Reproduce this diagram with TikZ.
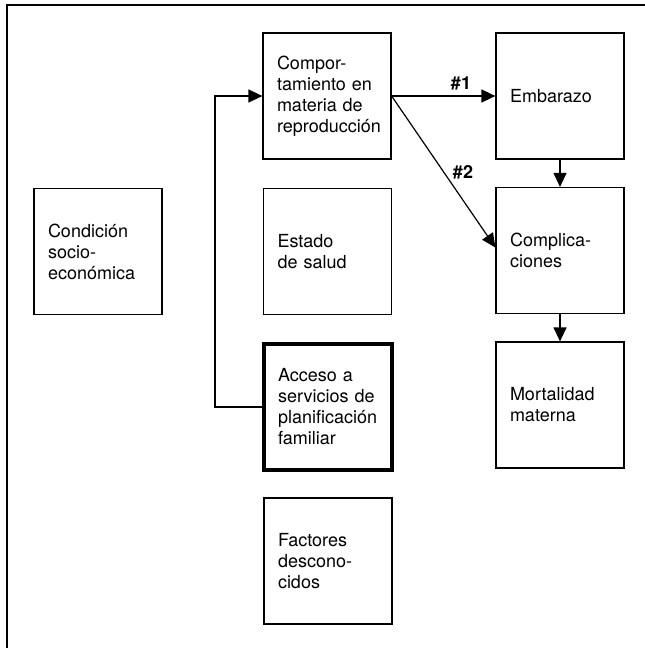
\documentclass[tikz,border=0pt]{standalone}
\usepackage{fontspec}
\setmainfont{TeX Gyre Heros}
\usetikzlibrary{arrows.meta}
\begin{document}
\begin{tikzpicture}[x=1pt,y=-1pt,
  box/.style={draw, line width=1.2pt, rectangle, minimum width=128pt, minimum height=126pt,
    text width=100pt, inner xsep=14pt, inner ysep=0pt, align=left,
    font=\fontsize{18}{21}\selectfont},
  thickbox/.style={box, line width=3.5pt},
  conn/.style={line width=1.2pt},
  arr/.style={conn, -{Triangle[length=14pt,width=13pt]}},
  lbl/.style={font=\fontsize{18}{21}\selectfont\bfseries, inner sep=0pt}]
\useasboundingbox (0,0) rectangle (645,648);
% outer frame (top and left edges)
\coordinate (fbl) at (7,648);
\coordinate (ftl) at (7,5);
\coordinate (ftr) at (645,5);
\draw[line width=1.2pt] (fbl) -- (ftl) -- (ftr);
% boxes
\node[box] (cond) at (98,251.5) {Condición\\socio-\\económica};
\node[box] (comp) at (327,96) {Compor-\\tamiento en\\materia de\\reproducción};
\node[box] (estado) at (327.5,251.5) {Estado\\de salud};
\node[thickbox] (acceso) at (328,407) {Acceso a\\servicios de\\planificación\\familiar};
\node[box] (fact) at (328,561) {Factores\\descono-\\cidos};
\node[box] (emb) at (560,96) {Embarazo};
\node[box] (compl) at (560,250.5) {Complica-\\ciones};
\node[box] (mort) at (560,405) {Mortalidad\\materna};
% connectors
\draw[arr] (comp.east) -- (emb.west);
\draw[arr] (comp.east) -- ([yshift=3pt]compl.west);
\draw[arr] (emb.south) -- (compl.north);
\draw[arr] (compl.south) -- (mort.north);
\coordinate (fbx) at (215,0);
\draw[arr] (acceso.west) -- (acceso.west -| fbx) |- (comp.west);
% labels
\node[lbl] (l1) at (461,83) {\#1};
\node[lbl] (l2) at (463,172) {\#2};
\end{tikzpicture}
\end{document}
